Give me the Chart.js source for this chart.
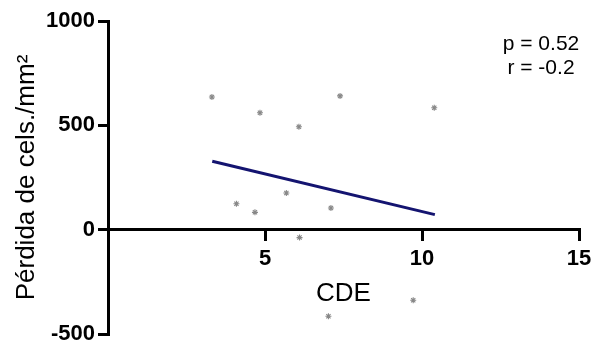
<!DOCTYPE html>
<html>
<head>
<meta charset="utf-8">
<script src="https://cdn.jsdelivr.net/npm/chart.js@4"></script>
<style>
    html, body { margin: 0; padding: 0; background: #fff; }
    #wrap { width: 594px; height: 347px; }
</style>
</head>
<body>
<div id="wrap"><canvas id="cdeChart" width="594" height="347"></canvas></div>
<script>
// scatter points
const cdeValues = [3.31, 4.84, 6.08, 7.39, 10.39, 4.09, 4.68, 5.68, 6.10, 7.10, 9.72, 7.02];
const lossValues = [636, 560, 493, 641, 584, 124, 83, 176, -38, 104, -338, -415];
// fitted line ends
const fitX = [3.32, 10.41];
const fitY = [328, 72];
const xTicks = [5, 10, 15];
const yTicks = [-500, 0, 500, 1000];
const statLines = ['p = 0.52', 'r = -0.2'];

const points = cdeValues.map((x, i) => ({ x: x, y: lossValues[i] }));
const fitPoints = fitX.map((x, i) => ({ x: x, y: fitY[i] }));

const tickFont = { family: 'Liberation Sans, Arial, sans-serif', size: 22, weight: 'bold' };
const titleFont = { family: 'Liberation Sans, Arial, sans-serif', size: 26, weight: 'normal' };

/*draws the p / r note in the top right*/
const statsText = {
    id: 'statsText',
    afterDraw(chart) {
        const ctx = chart.ctx;
        ctx.save();
        ctx.fillStyle = '#000';
        ctx.font = '21px "Liberation Sans", Arial, sans-serif';
        ctx.textAlign = 'center';
        ctx.textBaseline = 'middle';
        statLines.forEach((t, i) => ctx.fillText(t, 541, 44 + i * 24));
        ctx.restore();
    }
};

new Chart(document.getElementById('cdeChart'), {
    type: 'scatter',
    data: {
        datasets: [{
            data: points,
            pointStyle: 'star',
            pointRadius: 3,
            borderColor: '#888',
            backgroundColor: '#888',
            borderWidth: 1.1,
            pointHoverRadius: 3
        }, {
            type: 'line',
            data: fitPoints,
            borderColor: '#141470',
            borderWidth: 3,
            pointRadius: 0,
            fill: false
        }]
    },
    options: {
        responsive: false,
        animation: false,
        layout: { padding: { top: 21, right: 15, bottom: 13, left: 0 } },
        plugins: { legend: { display: false }, tooltip: { enabled: false } },
        scales: {
            x: {
                type: 'linear',
                position: { y: 0 },
                min: 0,
                max: 15,
                afterBuildTicks: (scale) => {
                    scale.ticks = xTicks.map(v => ({ value: v }));
                },
                afterFit: (scale) => { scale.paddingLeft = 0; scale.paddingRight = 0; },
                ticks: { color: '#000', font: tickFont, padding: 6, maxRotation: 0, callback: (v) => String(v) },
                grid: { drawOnChartArea: false, color: '#000', lineWidth: 3, tickLength: 10 },
                border: { color: '#000', width: 3 },
                title: { display: true, text: 'CDE', color: '#000', font: titleFont, padding: { top: 0, bottom: 0 } }
            },
            y: {
                type: 'linear',
                min: -500,
                max: 1000,
                afterBuildTicks: (scale) => {
                    scale.ticks = yTicks.map(v => ({ value: v }));
                },
                afterFit: (scale) => {
                    scale.width = 108;
                    scale.paddingTop = 0;
                    scale.paddingBottom = 0;
                },
                ticks: { color: '#000', font: tickFont, padding: 3, callback: (v) => String(v) },
                grid: { drawOnChartArea: false, color: '#000', lineWidth: 3, tickLength: 10 },
                border: { color: '#000', width: 3 },
                title: { display: true, text: 'Pérdida de cels./mm²', color: '#000', font: titleFont, padding: { top: 11, bottom: 0 } }
            }
        }
    },
    plugins: [statsText]
});
</script>
</body>
</html>
